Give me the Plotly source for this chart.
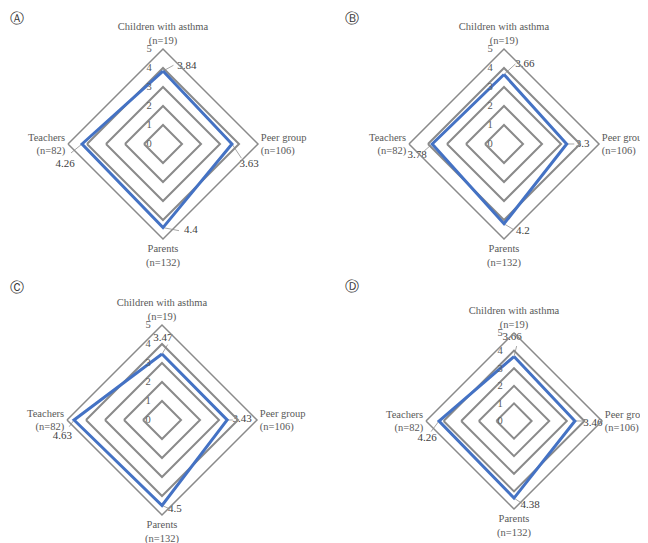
import plotly.graph_objects as go

categories = ["Children with asthma<br>(n=19)", "Peer group<br>(n=106)", "Parents<br>(n=132)", "Teachers<br>(n=82)"]
values_A = [3.84, 3.63, 4.4, 4.26]
values_B = [3.66, 3.3, 4.2, 3.78]
values_C = [3.47, 3.43, 4.5, 4.63]
values_D = [3.66, 3.46, 4.38, 4.26]
panel_letters = ["Ⓐ", "Ⓑ", "Ⓒ", "Ⓓ"]
radial_ticks = [0, 1, 2, 3, 4, 5]

all_values = [values_A, values_B, values_C, values_D]

# ---- layout / style (not data) ----
# figure is drawn 640x535 (page body keeps an 8px margin)
domains = [
    dict(x=[0.09375, 0.390625], y=[0.5682, 0.9234]),
    dict(x=[0.62656, 0.92344], y=[0.5682, 0.9234]),
    dict(x=[0.09219, 0.38906], y=[0.05234, 0.40748]),
    dict(x=[0.65313, 0.92813], y=[0.06355, 0.39253]),
]
R_MAX = 5
CART_HALF = 6  # overlay cartesian half-range (wider than the radar so outside labels stay drawn)
axis_dirs = [(0, 1), (1, 0), (0, -1), (-1, 0)]  # top, right, bottom, left in unit space
# value-label offsets from their point (in radial units) and leader-line end offsets
label_offsets = [
    [(1.26, 0.26), (0.90, -1.05), (1.47, -0.16), (-0.89, -1.05)],
    [(1.10, 0.55), (0.84, 0.0), (1.00, -0.37), (-0.79, -0.58)],
    [(0.05, 0.84), (0.79, 0.05), (0.68, -0.18), (-0.62, -0.88)],
    [(-0.11, 1.11), (1.02, -0.11), (0.91, -0.40), (-0.68, -0.97)],
]
leader_offsets = [
    [(0.55, 0.30), (0.50, -0.75), (0.84, -0.16), (-0.58, -0.47)],
    [(0.60, 0.55), (0.40, 0.0), (0.50, -0.30), (-0.42, -0.37)],
    [(0.30, 0.50), (0.30, 0.0), (0.35, -0.15), (-0.25, -0.35)],
    [(0.15, 0.60), (0.50, 0.0), (0.45, -0.30), (-0.45, -0.60)],
]


def widen(dom, k):
    c = (dom[0] + dom[1]) / 2
    h = (dom[1] - dom[0]) / 2 * k
    return [c - h, c + h]


serif = "Liberation Serif"
grid_col = "#8a8a8a"
blue = "#4472C4"
leader_col = "#a6a6a6"

fig = go.Figure()
for i, vals in enumerate(all_values):
    pid = "polar" if i == 0 else f"polar{i+1}"
    xa = "x" if i == 0 else f"x{i+1}"
    ya = "y" if i == 0 else f"y{i+1}"

    # leader lines and value labels on an invisible cartesian overlay sharing the polar scale
    lx, ly, tx, ty = [], [], [], []
    for v, (ux, uy), (ox, oy), (lox, loy) in zip(vals, axis_dirs, label_offsets[i], leader_offsets[i]):
        px, py = v * ux, v * uy
        lx += [px, px + lox, None]
        ly += [py, py + loy, None]
        tx.append(px + ox)
        ty.append(py + oy)
    fig.add_trace(go.Scatter(x=lx, y=ly, mode="lines", line=dict(color=leader_col, width=1),
                             xaxis=xa, yaxis=ya, showlegend=False, hoverinfo="skip",
                             cliponaxis=False))
    fig.add_trace(go.Scatter(x=tx, y=ty, mode="text", text=[str(v) for v in vals],
                             textposition="middle center", cliponaxis=False,
                             textfont=dict(family=serif, size=11, color="#404040"),
                             xaxis=xa, yaxis=ya, showlegend=False, hoverinfo="skip"))
    k = CART_HALF / R_MAX
    fig.layout["xaxis" if i == 0 else f"xaxis{i+1}"] = dict(
        domain=widen(domains[i]["x"], k), range=[-CART_HALF, CART_HALF],
        visible=False, fixedrange=True, anchor=ya)
    fig.layout["yaxis" if i == 0 else f"yaxis{i+1}"] = dict(
        domain=widen(domains[i]["y"], k), range=[-CART_HALF, CART_HALF],
        visible=False, fixedrange=True, anchor=xa)

    fig.add_trace(go.Scatterpolar(
        r=vals + [vals[0]], theta=categories + [categories[0]],
        mode="lines", line=dict(color=blue, width=3),
        subplot=pid, showlegend=False, hoverinfo="skip"))
    fig.layout[pid] = dict(
        domain=domains[i],
        gridshape="linear",
        bgcolor="rgba(0,0,0,0)",
        radialaxis=dict(range=[0, R_MAX], tickvals=radial_ticks, angle=90, tickangle=90,
                        showline=False, gridcolor=grid_col, gridwidth=1.5,
                        tickfont=dict(family=serif, size=10.5, color="#595959"),
                        ticks="outside", ticklen=7, tickcolor="rgba(0,0,0,0)",
                        side="counterclockwise"),
        angularaxis=dict(rotation=90, direction="clockwise",
                         showgrid=False, showline=True, linecolor=grid_col, linewidth=1.5,
                         ticks="",
                         tickfont=dict(family=serif, size=10.5, color="#595959")),
    )

letter_specs = [(0.0, 1.0, "left", "top"), (0.5375, 1.0, "center", "top"),
                (0.0, 0.4785, "left", "middle"), (0.5375, 0.4804, "center", "middle")]
for (x, y, xan, yan), t in zip(letter_specs, panel_letters):
    fig.add_annotation(x=x, y=y, xref="paper", yref="paper", text=t, showarrow=False,
                       xanchor=xan, yanchor=yan,
                       font=dict(family="DejaVu Sans", size=14, color="#333333"))

fig.update_layout(width=640, height=535, margin=dict(l=0, r=0, t=0, b=0),
                  paper_bgcolor="white", plot_bgcolor="rgba(0,0,0,0)")
fig.write_html("out.html")
